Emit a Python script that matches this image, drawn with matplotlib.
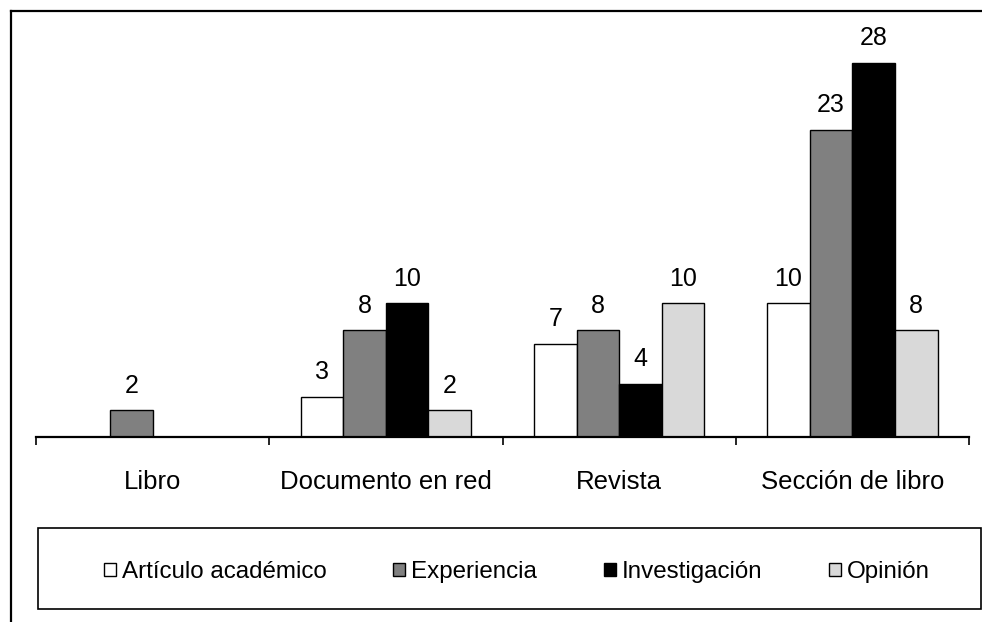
import matplotlib
matplotlib.use("Agg")
import matplotlib.pyplot as plt
from matplotlib.patches import Rectangle
from matplotlib.lines import Line2D
import numpy as np

plt.rcParams['font.family'] = ['Liberation Sans', 'DejaVu Sans']

categories = ["Libro", "Documento en red", "Revista", "Sección de libro"]
series_names = ["Artículo académico", "Experiencia", "Investigación", "Opinión"]
articulo = [0, 3, 7, 10]
experiencia = [2, 8, 8, 23]
investigacion = [0, 10, 4, 28]
opinion = [0, 2, 10, 8]
series_values = [articulo, experiencia, investigacion, opinion]
colors = ["#ffffff", "#808080", "#000000", "#d9d9d9"]

W, H = 982, 622
fig = plt.figure(figsize=(W / 100, H / 100), dpi=100)
ax = fig.add_axes([36 / W, 1 - 437 / H, (969 - 36) / W, (437 - 30) / H])

x = np.arange(len(categories))
bw = 0.1825
handles = []
for i, (name, vals, c) in enumerate(zip(series_names, series_values, colors)):
    offs = (i - 1.5) * bw
    bars = ax.bar(x + offs, vals, width=bw, color=c, edgecolor="black",
                  linewidth=1.0, label=name, zorder=2)
    labels = [str(v) if v != 0 else "" for v in vals]
    ax.bar_label(bars, labels=labels, padding=9, fontsize=18)
    handles.append(bars)

ax.set_xlim(-0.5, len(categories) - 0.5)
ax.set_ylim(0, 28 * (437 - 30) / 374)
for s in ["top", "right", "left"]:
    ax.spines[s].set_visible(False)
ax.spines["bottom"].set_linewidth(1.6)
ax.set_yticks([])
ax.set_xticks(x)
ax.set_xticklabels(categories, fontsize=18.5)
ax.tick_params(axis="x", which="major", length=0, pad=24)
ax.set_xticks(np.arange(-0.5, len(categories), 1.0), minor=True)
ax.tick_params(axis="x", which="minor", length=6, width=1.2, direction="out")

# legend box
lx0, lx1, ly0, ly1 = 38, 981, 528, 609
fig.patches.append(Rectangle((lx0 / W, 1 - ly1 / H), (lx1 - lx0) / W, (ly1 - ly0) / H,
                             transform=fig.transFigure, fill=False,
                             edgecolor="black", linewidth=1.2))
fig.legend(handles=handles, labels=series_names, loc="center",
           bbox_to_anchor=(517 / W, 1 - 572 / H), ncol=4, frameon=False,
           fontsize=17.4, handlelength=0.5, handleheight=0.5,
           handletextpad=0.25, columnspacing=2.75)

# outer chart frame (left and top edges visible)
fx, fy = 10.5 / W, 1 - 10.5 / H
fig.lines.append(Line2D([fx, fx], [0, fy], transform=fig.transFigure,
                        color="black", linewidth=1.6))
fig.lines.append(Line2D([fx, 1.0], [fy, fy], transform=fig.transFigure,
                        color="black", linewidth=1.6))

fig.savefig("out.png", dpi=100)
